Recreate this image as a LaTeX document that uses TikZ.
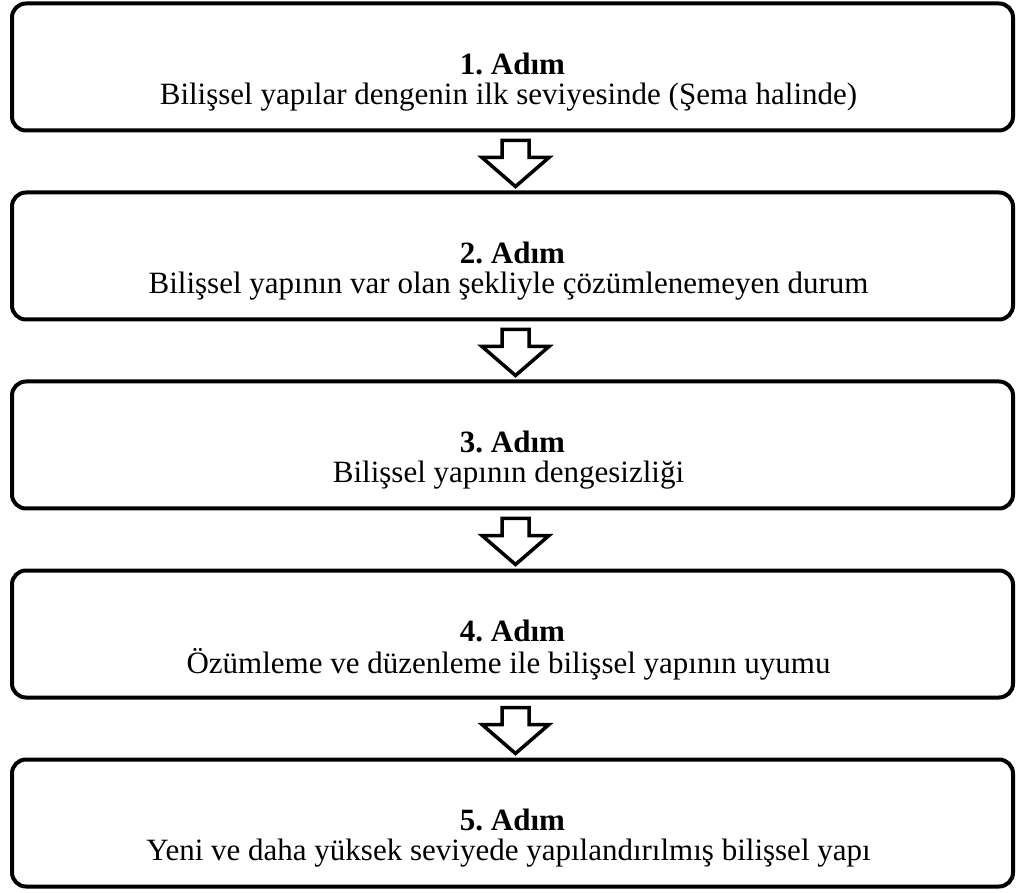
\documentclass[tikz,border=0pt]{standalone}
\usepackage{fontspec}
\setmainfont{Liberation Serif}
\usetikzlibrary{positioning,calc}

\begin{document}
\frenchspacing
\begin{tikzpicture}[x=1pt, y=1pt, node distance=62pt,
    stage/.style = {draw, line width=4pt, rounded corners=14pt, outer sep=0pt,
                    minimum width=1001pt, minimum height=127pt},
    steptitle/.style = {font=\fontsize{31}{36}\selectfont\bfseries},
    stepbody/.style = {font=\fontsize{31}{36}\selectfont},
    hollow/.style = {draw, line width=3.5pt, fill=white, miter limit=10}]
    \useasboundingbox (0,0) rectangle (1016,892);
    % the five boxes
    \node[stage] (s1) at (512.5,825) {};
    \node[stage] (s2) [below=of s1] {};
    \node[stage] (s3) [below=of s2] {};
    \node[stage] (s4) [below=of s3] {};
    \node[stage] (s5) [below=of s4] {};
    % texts
    \foreach \i/\txt in {1/{Bilişsel yapılar dengenin ilk seviyesinde (Şema halinde)},
                         2/{Bilişsel yapının var olan şekliyle çözümlenemeyen durum},
                         3/{Bilişsel yapının dengesizliği},
                         4/{Özümleme ve düzenleme ile bilişsel yapının uyumu},
                         5/{Yeni ve daha yüksek seviyede yapılandırılmış bilişsel yapı}} {
        \node[steptitle] (t\i) at ($(s\i.center)+(0,3)$) {\i. Adım};
        \node[stepbody] (d\i) at ($(s\i.center)+(-4,-30)$) {\txt};
    }
    % hollow arrows between the boxes
    \foreach \a/\b in {s1/s2, s2/s3, s3/s4, s4/s5}
        \draw[hollow] ($(\a.south)+(-10.5,-10)$) -- ++(27,0) -- ++(0,-17)
            -- ++(20,0) -- ($(\a.south)+(3,-56)$) -- ($(\a.south)+(-30.5,-27)$)
            -- ++(20,0) -- cycle;
\end{tikzpicture}
\end{document}
